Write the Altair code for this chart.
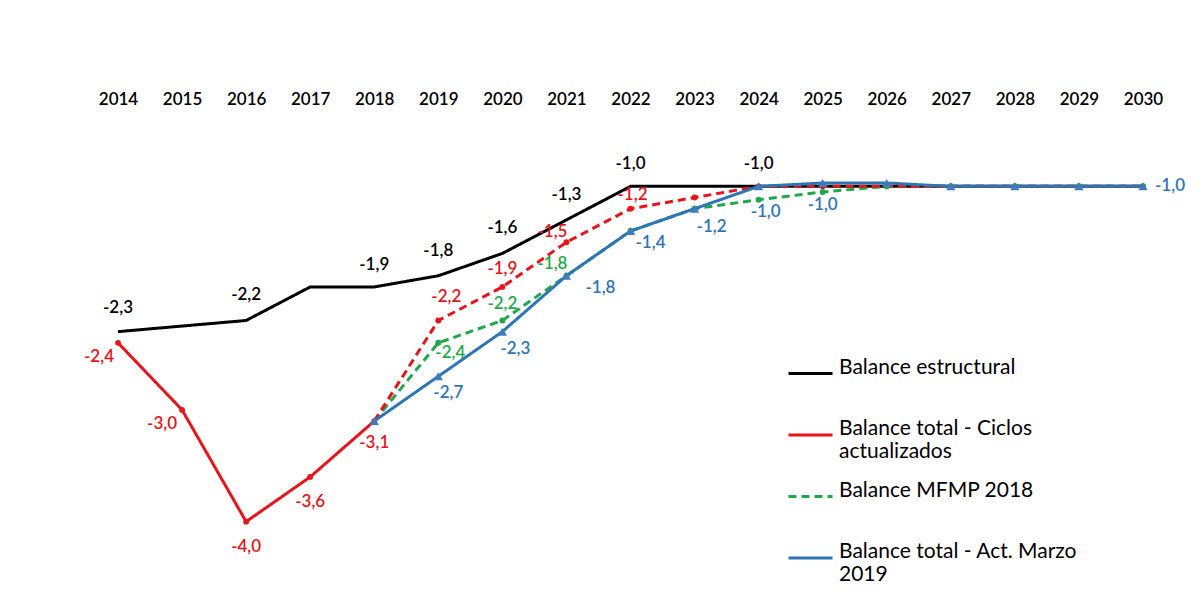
import altair as alt
import pandas as pd

# ---------------- data ----------------
years = list(range(2014, 2031))
hist_years = list(range(2014, 2019))
proj_years = list(range(2018, 2031))

estructural = [-2.3, -2.25, -2.2, -1.9, -1.9, -1.8, -1.6, -1.3, -1.0, -1.0, -1.0, -1.0, -1.0, -1.0, -1.0, -1.0, -1.0]
ciclos_hist = [-2.4, -3.0, -4.0, -3.6, -3.1]
ciclos_proj = [-3.1, -2.2, -1.9, -1.5, -1.2, -1.1, -1.0, -1.0, -1.0, -1.0, -1.0, -1.0, -1.0]
mfmp = [-3.1, -2.4, -2.2, -1.8, -1.4, -1.2, -1.12, -1.05, -1.0, -1.0, -1.0, -1.0, -1.0]
marzo = [-3.1, -2.7, -2.3, -1.8, -1.4, -1.2, -1.0, -0.97, -0.97, -1.0, -1.0, -1.0, -1.0]

S_EST = "Balance estructural"
S_CIC = "Balance total - Ciclos actualizados"
S_MFMP = "Balance MFMP 2018"
S_MAR = "Balance total - Act. Marzo 2019"
series_names = [S_EST, S_CIC, S_MFMP, S_MAR]

# labelled points per series (years)
labelled = {
    S_EST: [2014, 2016, 2018, 2019, 2020, 2021, 2022, 2024],
    S_CIC: [2014, 2015, 2016, 2017, 2018, 2019, 2020, 2021, 2022],
    S_MFMP: [2019, 2020, 2021],
    S_MAR: [2019, 2020, 2021, 2022, 2023, 2024, 2025, 2030],
}

# ---------------- styles / placement ----------------
colors = {S_EST: "#000000", S_CIC: "#E8141B", S_MFMP: "#1FA84A", S_MAR: "#2E75B6"}
dashes = {S_EST: [1, 0], S_CIC: [1, 0], S_MFMP: [8, 5], S_MAR: [1, 0]}
label_offsets = {
    (S_EST, 2014): (0, -24), (S_EST, 2016): (0, -25), (S_EST, 2018): (0, -22),
    (S_EST, 2019): (0, -25), (S_EST, 2020): (0, -25), (S_EST, 2021): (0, -25),
    (S_EST, 2022): (0, -22), (S_EST, 2024): (0, -22),
    (S_CIC, 2014): (-19, 14), (S_CIC, 2015): (-20, 14), (S_CIC, 2016): (0, 25),
    (S_CIC, 2017): (0, 25), (S_CIC, 2018): (0, 22), (S_CIC, 2019): (8, -23),
    (S_CIC, 2020): (0, -18), (S_CIC, 2021): (-14, -10), (S_CIC, 2022): (2, -14),
    (S_MFMP, 2019): (12, 10), (S_MFMP, 2020): (0, -16), (S_MFMP, 2021): (-14, -12),
    (S_MAR, 2019): (10, 17), (S_MAR, 2020): (13, 17), (S_MAR, 2021): (34, 12),
    (S_MAR, 2022): (20, 12), (S_MAR, 2023): (17, 18), (S_MAR, 2024): (7, 26),
    (S_MAR, 2025): (0, 22), (S_MAR, 2030): (27, 0),
}
FONT = "Lato"


def frame(name, xs, vs):
    return pd.DataFrame({"year": xs, "value": vs, "series": name})


df_est = frame(S_EST, years, estructural)
df_cic_h = frame(S_CIC, hist_years, ciclos_hist)
df_cic_p = frame(S_CIC, proj_years, ciclos_proj)
df_mfmp = frame(S_MFMP, proj_years, mfmp)
df_mar = frame(S_MAR, proj_years, marzo)


def value_of(series, year):
    if series == S_EST:
        return estructural[years.index(year)]
    if series == S_CIC:
        if year <= 2018:
            return ciclos_hist[hist_years.index(year)]
        return ciclos_proj[proj_years.index(year)]
    if series == S_MFMP:
        return mfmp[proj_years.index(year)]
    return marzo[proj_years.index(year)]


rows = []
for s, yrs in labelled.items():
    for y in yrs:
        v = value_of(s, y)
        rows.append({"series": s, "year": y, "value": v,
                     "text": f"{v:.1f}".replace(".", ",")})
df_labels = pd.DataFrame(rows)

# ---------------- encodings ----------------
xaxis = alt.Axis(orient="top", labelAngle=0, domain=False, ticks=False, grid=False,
                 labelFont=FONT, labelFontSize=17, labelFontWeight=600, labelColor="#000000",
                 labelPadding=56, title=None)
X = alt.X("year:O", scale=alt.Scale(type="point", padding=0), axis=xaxis)
Y = alt.Y("value:Q", scale=alt.Scale(domain=[-4.2, -0.8], nice=False, zero=False), axis=None)

legend = alt.Legend(
    title=None, orient="none", legendX=669, legendY=186,
    symbolType="stroke", symbolSize=1936, symbolStrokeWidth=3,
    labelFont=FONT, labelFontSize=21, labelColor="#000000", labelOffset=5,
    labelLimit=500, rowPadding=10.5, labelBaseline="alphabetic", padding=0,
    labelExpr=("datum.label == '" + S_CIC + "' ? ['Balance total - Ciclos', 'actualizados'] : "
               "datum.label == '" + S_MAR + "' ? ['Balance total - Act. Marzo', '2019'] : datum.label"),
)
COLOR = alt.Color("series:N", scale=alt.Scale(domain=series_names,
                                              range=[colors[s] for s in series_names]),
                  legend=legend)
DASH = alt.StrokeDash("series:N", scale=alt.Scale(domain=series_names,
                                                  range=[dashes[s] for s in series_names]),
                      legend=legend)

lines_a = alt.Chart(pd.concat([df_est, df_cic_h, df_mfmp])).mark_line(strokeWidth=3).encode(
    x=X, y=Y, color=COLOR, strokeDash=DASH, detail="series:N")
red_dash = alt.Chart(df_cic_p).mark_line(strokeWidth=3, color=colors[S_CIC],
                                         strokeDash=[8, 5]).encode(x=X, y=Y)
red_pts = alt.Chart(pd.concat([df_cic_h, df_cic_p[df_cic_p.year > 2018]])).mark_point(
    shape="circle", filled=True, size=34, opacity=1, color=colors[S_CIC]).encode(x=X, y=Y)
green_pts = alt.Chart(df_mfmp[df_mfmp.year > 2018]).mark_point(
    shape="circle", filled=True, size=36, opacity=1, color=colors[S_MFMP]).encode(x=X, y=Y)
lines_c = alt.Chart(df_mar).mark_line(strokeWidth=3).encode(
    x=X, y=Y, color=COLOR, strokeDash=DASH)
blue_pts = alt.Chart(df_mar).mark_point(
    shape="triangle-up", filled=True, size=85, opacity=1, color="#3F7CBF").encode(x=X, y=Y)

layers = [lines_a, red_dash, red_pts, green_pts, lines_c, blue_pts]

# data labels, one layer per (series, offset)
groups = {}
for r in rows:
    key = (r["series"],) + label_offsets[(r["series"], r["year"])]
    groups.setdefault(key, []).append(r["year"])
for (s, dx, dy), yrs in groups.items():
    sub = df_labels[(df_labels.series == s) & (df_labels.year.isin(yrs))]
    layers.append(
        alt.Chart(sub).mark_text(font=FONT, fontSize=17, fontWeight=600, color=colors[s],
                                 dx=dx, dy=dy, align="center", baseline="middle").encode(
            x=X, y=Y, text="text:N"))

chart = alt.layer(*layers).properties(
    width=1025, height=380,
    autosize=alt.AutoSizeParams(type="none"),
    padding={"left": 110, "top": 156, "right": 49, "bottom": 48},
).configure_view(stroke=None).configure_legend(gridAlign="all")

chart.save("out.html", embed_options={"renderer": "svg", "actions": False})
